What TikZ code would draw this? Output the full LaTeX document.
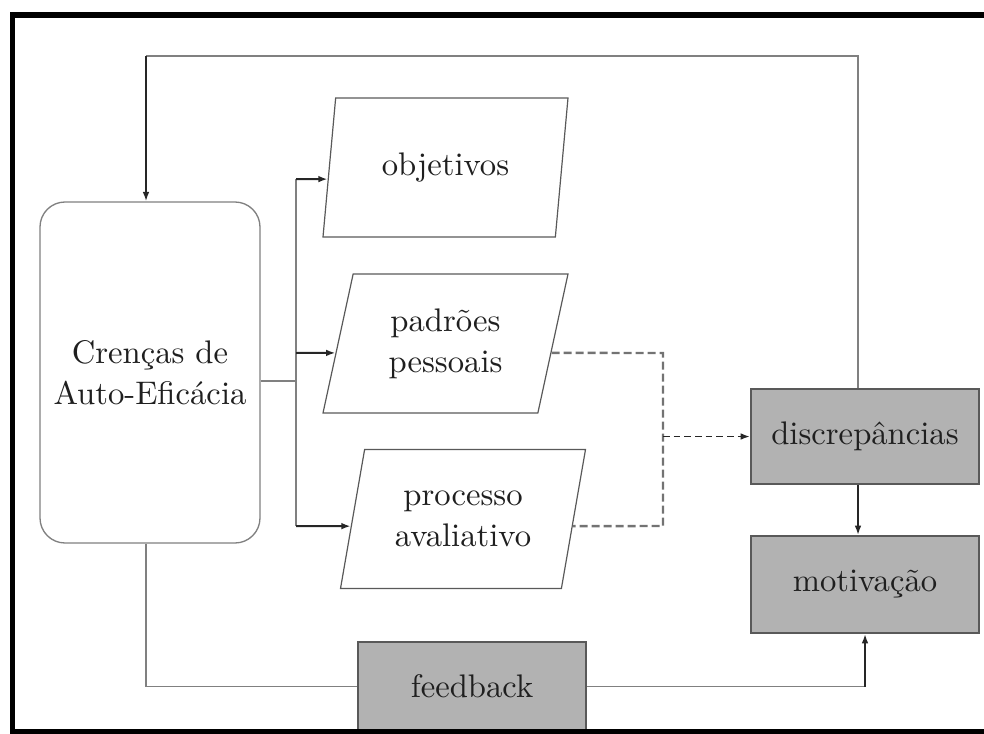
\documentclass[tikz,border=0pt]{standalone}
\usepackage{fontspec}
\newfontfamily\labelface{lmroman10-regular.otf}
\usetikzlibrary{shapes.geometric,calc,arrows.meta}
\begin{document}
\begin{tikzpicture}[x=0.75pt,y=-0.75pt,
  txt/.style={font=\labelface\fontsize{24.5}{30.75}\selectfont, text=black!88},
  belief/.style={txt, draw=black!50, line width=1pt, rounded corners=18.75pt,
    minimum width=165pt, minimum height=255.75pt, align=center, inner sep=0pt},
  slantbox/.style={txt, trapezium, trapezium left angle=66.7, trapezium right angle=113.3,
    trapezium stretches body, draw=black!65, line width=0.9pt,
    minimum width=183.75pt, minimum height=104.25pt, align=center, inner sep=0pt},
  graybox/.style={txt, draw=black!65, line width=1.4pt, fill=black!30,
    minimum width=171pt, inner sep=0pt},
  link/.style={draw=black!50, line width=1.2pt},
  arr/.style={draw=black!85, line width=1.5pt, -{Latex[length=7pt,width=5pt]}},
  dashlink/.style={draw=black!55, line width=1.8pt, dash pattern=on 6pt off 3pt},
  dasharr/.style={draw=black!85, line width=1.4pt, dash pattern=on 5pt off 3pt,
    -{Latex[length=7pt,width=5pt]}},
  frame/.style={line width=4.2pt, draw=black}
]
\useasboundingbox (0,0) rectangle (984,734);

% boxes
\node[belief] (cren) at (150,372.5) {Crenças de\\Auto-Eficácia};
\node[slantbox] (obj) at (445.5,167.5) {objetivos};
\node[slantbox] (pad) at (445.5,343.5) {padrões\\pessoais};
\node[slantbox] (proc) at (463,519) {processo\\avaliativo};
\node[graybox, minimum height=71.25pt] (disc) at (865,436.5) {discrepâncias};
\node[graybox, minimum height=72.75pt] (motiv) at (865,584.5) {motivação};
\node[graybox, minimum height=66.75pt] (fb) at (472,686.5) {feedback};

% routing points
\coordinate (split) at (296,381);
\coordinate (trtop) at (296,179);
\coordinate (trmid) at (296,353);
\coordinate (trbot) at (296,526);
\coordinate (ret) at (858,56);
\coordinate (tl) at (146,56);
\coordinate (dj) at (663,353);

% fan-out from the beliefs box
\draw[link] (cren.east |- split) -- (split);
\draw[link] (trtop) -- (trbot);
\draw[arr] (trtop) -- ($(obj.bottom left corner)!0.417!(obj.top left corner)$);
\draw[arr] (trmid) -- ($(pad.bottom left corner)!0.433!(pad.top left corner)$);
\draw[arr] (trbot) -- ($(proc.bottom left corner)!0.449!(proc.top left corner)$);

% return loop from discrepancies to beliefs
\draw[link] (ret |- disc.north) -- (ret) -- (tl);
\draw[arr] (tl) -- (tl |- cren.north);

% discrepancies -> motivation
\draw[arr] (disc.south -| ret) -- (motiv.north -| ret);

% feedback loop
\draw[link] (cren.south -| tl) |- (fb.west);
\draw[link] (fb.east) -- (fb.east -| motiv.south);
\draw[arr] (fb.east -| motiv.south) -- (motiv.south);

% comparison of standards and evaluation
\draw[dashlink] ($(pad.bottom right corner)!0.433!(pad.top right corner)$) -- (dj)
  -- (dj |- trbot) -- ($(proc.bottom right corner)!0.449!(proc.top right corner)$);
\draw[dasharr] (dj |- disc.west) -- (disc.west);

% outer frame
\draw[frame] (984,15) -- (12.5,15) -- (12.5,732) -- (984,732);
\end{tikzpicture}
\end{document}
